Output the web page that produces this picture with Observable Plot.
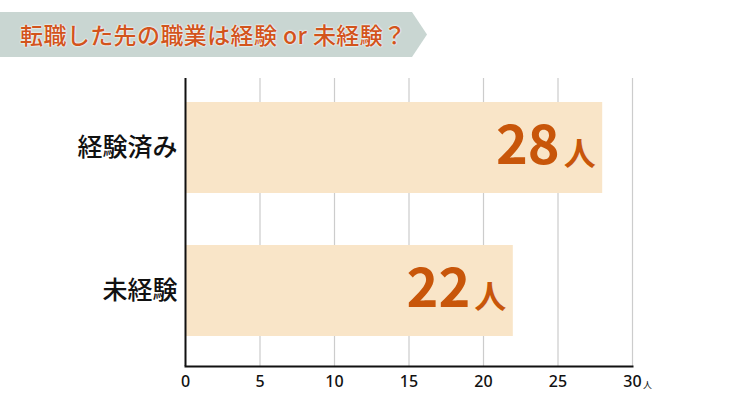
<!DOCTYPE html>
<html>
<head>
<meta charset="utf-8">
<script src="https://cdn.jsdelivr.net/npm/d3@7"></script>
<script src="https://cdn.jsdelivr.net/npm/@observablehq/plot@0.6"></script>
<style>
  html, body { margin: 0; padding: 0; background: #fff; }
  body { width: 729px; height: 410px; overflow: hidden; font-family: "Noto Sans CJK JP", "Noto Sans", sans-serif; }
  #head { position: relative; height: 70px; }
  #banner {
    position: absolute; left: 0; top: 12px; width: 427px; height: 45px;
    background: #c9d6d2;
    clip-path: polygon(0 0, 412px 0, 427px 50%, 412px 100%, 0 100%);
  }
  #title {
    position: absolute; left: 20px; top: 12px; height: 45px; line-height: 45px;
    font-size: 23px; font-weight: 500; letter-spacing: 0.4px; color: #d2541c; white-space: nowrap;
    text-shadow: 0 0 2px #fff, 0 0 2px #fff;
  }
</style>
</head>
<body>
<div id="head"><div id="banner"></div><div id="title">転職した先の職業は経験 or 未経験？</div></div>
<div id="chart"></div>
<script>
const categories = ["経験済み", "未経験"];
const counts = [28, 22];
const ticks = [0, 5, 10, 15, 20, 25, 30];
const unit = "人";

const data = categories.map((c, i) => ({category: c, count: counts[i]}));

const chart = Plot.plot({
  width: 729,
  height: 340,
  marginLeft: 185,
  marginRight: 97,
  marginTop: 8,
  marginBottom: 44,
  style: {fontFamily: "'Noto Sans CJK JP', sans-serif", background: "#fff"},
  x: {domain: [0, 30], ticks: ticks, axis: null},
  y: {domain: categories, paddingInner: 0.361, paddingOuter: 0.1806, align: 0.44, axis: null},
  marks: [
    Plot.ruleX(ticks.filter(t => t > 0), {stroke: "#cccccc", strokeWidth: 1.2}),
    Plot.barX(data, {x: "count", y: "category", fill: "#f9e5c8"}),
    Plot.frame({anchor: "bottom", stroke: "#111", strokeWidth: 2}),
    Plot.ruleX([0], {stroke: "#111", strokeWidth: 2}),
    Plot.axisX({ticks: ticks, tickSize: 0, tickPadding: 9, fontSize: 16, fontWeight: 500, fontFamily: "'Noto Sans', sans-serif", fill: "#111", label: null, frameAnchor: "bottom"}),
    Plot.text([30], {x: d => d, frameAnchor: "bottom", dx: 15, dy: 21, text: () => unit, fontSize: 9, fill: "#111"}),
    Plot.axisY({tickSize: 0, tickPadding: 8, fontSize: 25, fontWeight: 500, fill: "#111", label: null, textAnchor: "end"}),
    Plot.text(data, {x: "count", y: "category", text: "count", textAnchor: "end", dx: -43, dy: -1, fontSize: 54, fontWeight: 600, fill: "#c8560a"}),
    Plot.text(data, {x: "count", y: "category", text: () => unit, textAnchor: "end", dx: -7, dy: 7, fontSize: 32, fontWeight: 600, fill: "#c8560a"})
  ]
});

document.getElementById("chart").appendChild(chart);
</script>
</body>
</html>
